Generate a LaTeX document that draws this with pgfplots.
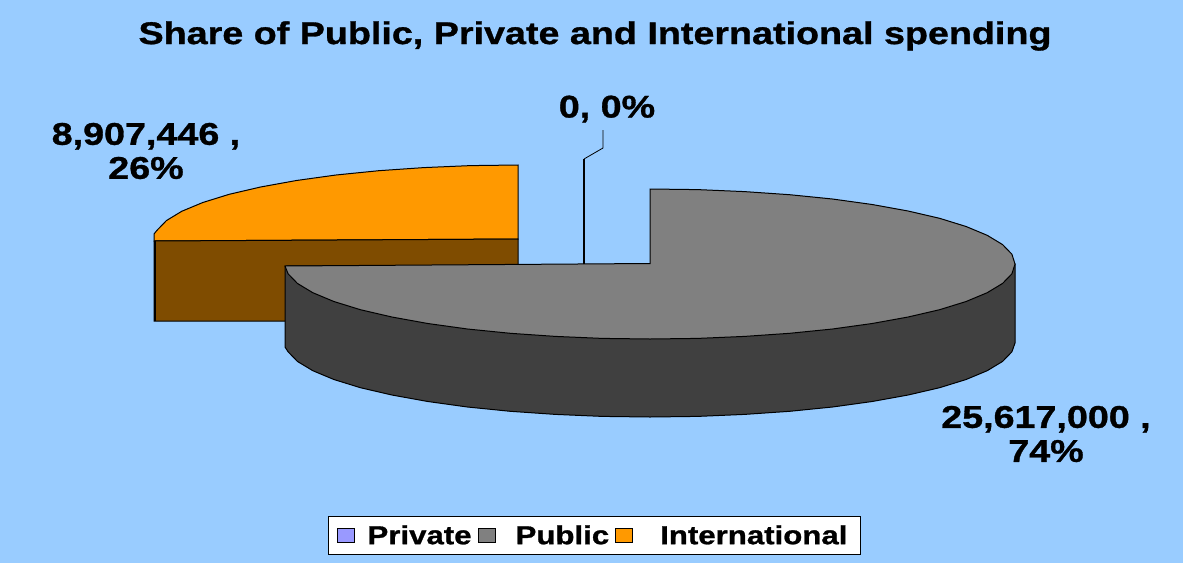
\documentclass[border=0pt]{standalone}
\usepackage{pgfplots}
\usepackage{fontspec}
\setmainfont{Liberation Sans}[FakeStretch=1.2,BoldFeatures={FakeBold=1}]
\pgfplotsset{compat=1.18}
\definecolor{bgblue}{HTML}{99CCFF}
\definecolor{orangetop}{HTML}{FF9900}
\definecolor{orangewall}{HTML}{7F4C00}
\definecolor{greytop}{HTML}{808080}
\definecolor{greywall}{HTML}{404040}
\definecolor{privcol}{HTML}{9999FF}
\begin{document}
\begin{tikzpicture}
\begin{axis}[
  scale only axis, width=1183pt, height=563pt,
  xmin=0, xmax=1183, ymin=0, ymax=563, y dir=reverse,
  hide axis,
  legend style={at={(0.5025,0.0488)}, anchor=center, draw=black, line width=0.8pt, fill=white,
    font=\bfseries\fontsize{26}{28}\selectfont, legend columns=3, inner xsep=8pt, inner ysep=7pt,
    /tikz/every even column/.append style={column sep=4pt},
    /tikz/every odd column/.append style={column sep=11pt}},
  legend cell align=left,
]
\addplot[fill=bgblue, draw=none, forget plot] coordinates {(0,0)(1183,0)(1183,563)(0,563)} -- cycle;
% international, top face
\addplot[fill=orangetop, draw=black, line width=1pt, forget plot] coordinates {
(518,165)(470.5,165.6)(423.8,167.6)(378.7,170.7)(336,175)(296.4,180.5)(260.6,187)(229.2,194.3)
(202.8,202.5)(181.7,211.3)(166.4,220.6)(157.1,230.2)(154,234)(154,241)(518,239)} -- cycle;
% international, wall
\addplot[fill=orangewall, draw=black, line width=1pt, forget plot] coordinates {
(154,241)(518,239)(518,321)(154,321)} -- cycle;
\addplot[draw=black, line width=2.5pt, forget plot] coordinates {(155,241)(155,321)};
% public, wall
\addplot[fill=greywall, draw=black, line width=1pt, forget plot] coordinates {
(1015,264)(1015,343)(1011.9,351.8)(1002.6,361.4)(987.2,370.7)(966.1,379.5)(939.6,387.7)(908.1,395)
(872.2,401.5)(832.5,407)(789.7,411.3)(744.5,414.4)(697.6,416.4)(650,417)(602.4,416.4)(555.5,414.4)
(510.3,411.3)(467.5,407)(427.8,401.5)(391.9,395)(360.4,387.7)(333.9,379.5)(312.8,370.7)(297.4,361.4)
(288.1,351.8)(285,347)(285,266)} -- cycle;
% public, top face
\addplot[fill=greytop, draw=black, line width=1pt, forget plot] coordinates {
(650,263.5)(650,189)(697.6,189.6)(744.5,191.6)(789.7,194.7)(832.5,199)(872.2,204.5)(908.1,211)
(939.6,218.3)(966.1,226.5)(987.2,235.3)(1002.6,244.6)(1011.9,254.2)(1015,264)(1011.9,273.8)
(1002.6,283.4)(987.2,292.7)(966.1,301.5)(939.6,309.7)(908.1,317)(872.2,323.5)(832.5,329)(789.7,333.3)
(744.5,336.4)(697.6,338.4)(650,339)(602.4,338.4)(555.5,336.4)(510.3,333.3)(467.5,329)(427.8,323.5)
(391.9,317)(360.4,309.7)(333.9,301.5)(312.8,292.7)(297.4,283.4)(288.1,273.8)(285,266)} -- cycle;
% leader of the zero slice
\addplot[draw=black, line width=1.4pt, forget plot] coordinates {(584,264)(584,159)};
\addplot[draw=black, line width=0.8pt, forget plot] coordinates {(584,159)(603,148)(603,130)};
% legend entries
\addlegendimage{legend image code/.code={\draw[fill=privcol,draw=black,line width=1pt] (0pt,-7pt) rectangle (17pt,7pt);}}
\addlegendentry{Private}
\addlegendimage{legend image code/.code={\draw[fill=greytop,draw=black,line width=1pt] (0pt,-7pt) rectangle (17pt,7pt);}}
\addlegendentry{\hspace*{7pt}Public}
\addlegendimage{legend image code/.code={\draw[fill=orangetop,draw=black,line width=1pt] (0pt,-7pt) rectangle (17pt,7pt);}}
\addlegendentry{\hspace*{14pt}International\hspace*{3pt}}
% texts
\node[font=\bfseries\fontsize{31.4}{34}\selectfont, anchor=center] at (axis cs:595,36) {Share of Public, Private and International spending};
\node[font=\bfseries\fontsize{31.4}{34}\selectfont, align=center] at (axis cs:146,151) {8,907,446 ,\\26\%};
\node[font=\bfseries\fontsize{31.4}{34}\selectfont] at (axis cs:607,109) {0, 0\%};
\node[font=\bfseries\fontsize{31.4}{34}\selectfont, align=center] at (axis cs:1046,434) {25,617,000 ,\\74\%};
\end{axis}
\end{tikzpicture}
\end{document}
